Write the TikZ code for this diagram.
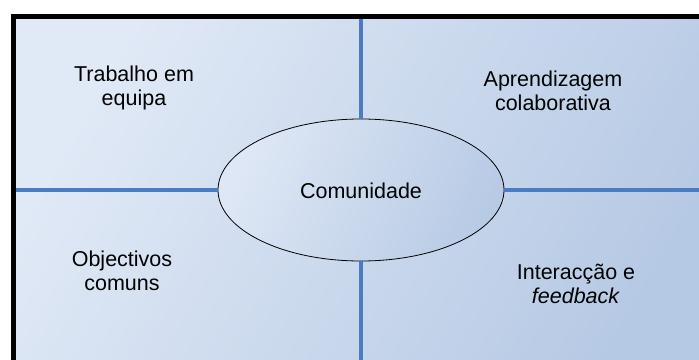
\documentclass[tikz,border=0pt]{standalone}
\usepackage{fontspec}
\setmainfont{Liberation Sans}
\usetikzlibrary{shapes.geometric}
\definecolor{bgA}{HTML}{E0E9F6}
\definecolor{bgB}{HTML}{B6C9E4}
\definecolor{lineblue}{HTML}{4A7CC4}
\tikzset{
  lbl/.style={align=center, font=\fontsize{21.5}{24.5}\selectfont, inner sep=0pt},
  blueline/.style={draw=lineblue, line width=3.2pt},
}
\begin{document}
\begin{tikzpicture}[x=1pt,y=-1pt]
\useasboundingbox (0,0) rectangle (699,359);
\clip (0,0) rectangle (699,359);
\fill[white] (0,0) rectangle (699,359);
% background panel
\shade[shading=axis, left color=bgA, right color=bgB, shading angle=60] (13.5,16.5) rectangle (720,380);
\draw[line width=5pt] (13.5,380) -- (13.5,16.5) -- (720,16.5);
% coordinates for connector ends
\coordinate (T) at (361,19);
\coordinate (B) at (361,370);
\coordinate (L) at (16,190);
\coordinate (R) at (710,190);
% ellipse
\node[ellipse, minimum width=286pt, minimum height=142pt, inner sep=0pt,
      shading=axis, left color=bgA!95!bgB, right color=bgB!95!bgA, shading angle=65,
      draw=black, line width=0.8pt] (comm) at (361,190) {};
\node[lbl] (commtxt) at (361,191) {Comunidade};
% connectors
\draw[blueline] (T) -- (comm.north);
\draw[blueline] (comm.south) -- (B);
\draw[blueline] (L) -- (comm.west);
\draw[blueline] (comm.east) -- (R);
% quadrant labels
\node[lbl] (tl) at (134,88) {Trabalho em\\equipa};
\node[lbl] (tr) at (553,91) {Aprendizagem\\colaborativa};
\node[lbl] (bl) at (122,271) {Objectivos\\comuns};
\node[lbl] (br) at (576,284) {Interacção e\\\textit{feedback}};
\end{tikzpicture}
\end{document}
